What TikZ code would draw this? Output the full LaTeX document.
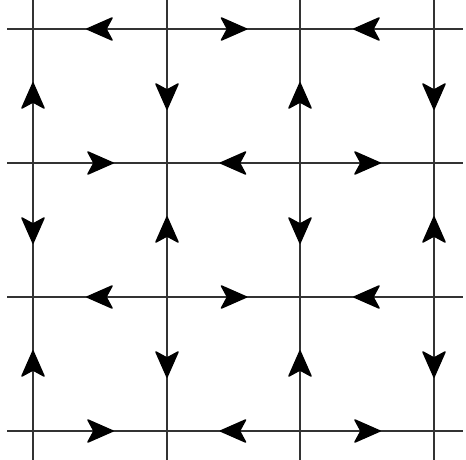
\documentclass[tikz,border=0pt]{standalone}
\usetikzlibrary{decorations.markings}
\tikzset{
  gridline/.style={line width=2.3pt, draw=black!80},
  flow/.style={gridline, postaction={decorate},
    decoration={markings, mark=at position 0.5 with {\fill[black, draw=black, line width=1.5pt, line join=round] (13pt,0) -- (-12pt,11pt) -- (-6pt,0) -- (-12pt,-11pt) -- cycle;}}}
}
\begin{document}
\begin{tikzpicture}[x=1pt,y=-1pt]
\useasboundingbox (0,0) rectangle (466,460);
\foreach \i/\x in {0/33,1/167,2/300,3/434}{
  \foreach \j/\y in {0/29,1/163,2/297,3/431}{
    \coordinate (p\i\j) at (\x,\y);
  }
  \coordinate (t\i) at (\x,0);
  \coordinate (b\i) at (\x,460);
}
\foreach \j/\y in {0/29,1/163,2/297,3/431}{
  \coordinate (l\j) at (7,\y);
  \coordinate (r\j) at (463,\y);
}
% plain ends
\foreach \i in {0,1,2,3}{
  \draw[gridline] (t\i) -- (p\i0);
  \draw[gridline] (p\i3) -- (b\i);
  \draw[gridline] (l\i) -- (p0\i);
  \draw[gridline] (p3\i) -- (r\i);
}
% directed segments
\foreach \a/\b in {10/00,10/20,30/20, 01/11,21/11,21/31, 12/02,12/22,32/22, 03/13,23/13,23/33,
                   01/00,01/02,03/02, 10/11,12/11,12/13, 21/20,21/22,23/22, 30/31,32/31,32/33}{
  \draw[flow] (p\a) -- (p\b);
}
\end{tikzpicture}
\end{document}
